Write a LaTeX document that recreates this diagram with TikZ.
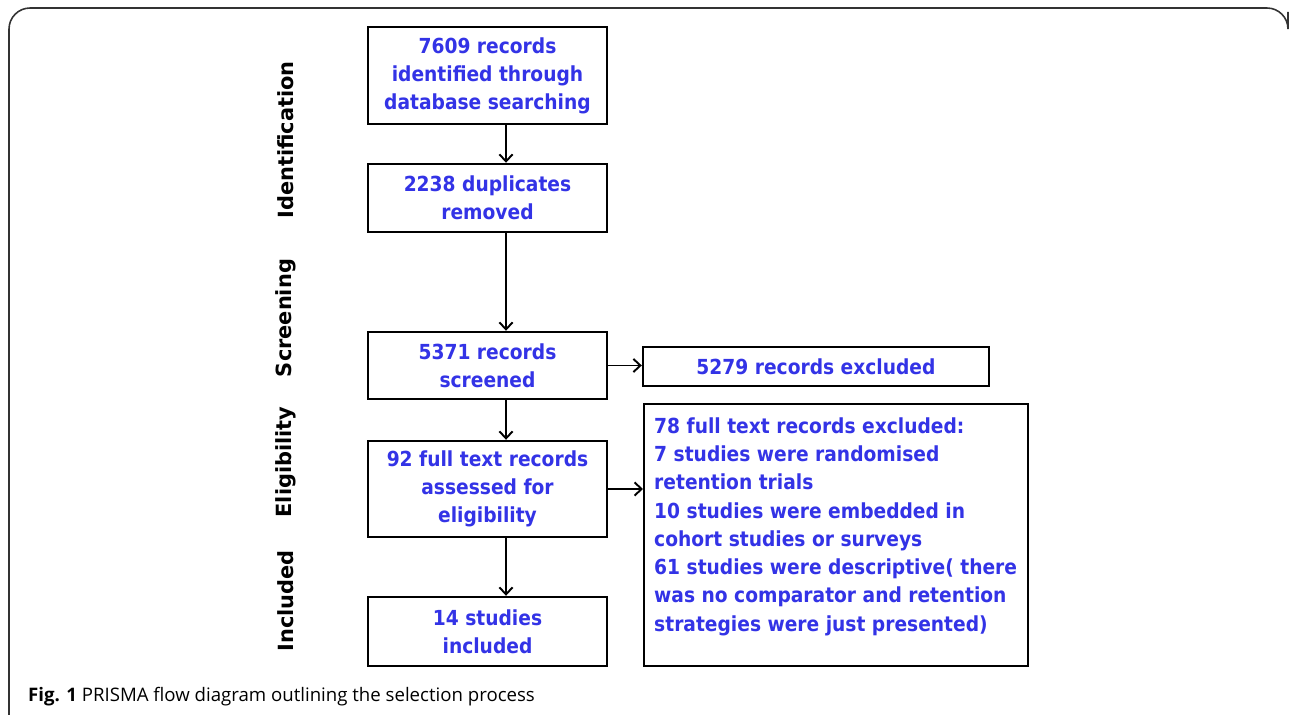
\documentclass[tikz,border=0pt]{standalone}
\usepackage{fontspec}
\setmainfont{Open Sans}
\newfontfamily\boxfont{DejaVu Sans Condensed Bold}
\newfontfamily\phasefont{DejaVu Sans}
\usetikzlibrary{positioning,calc,arrows.meta}
\definecolor{recblue}{RGB}{51,51,230}

\begin{document}
\begin{tikzpicture}[x=0.02cm,y=-0.02cm,
	recbox/.style={draw,line width=1.4pt,minimum width=4.78cm,align=center,
		text=recblue,font=\boxfont\fontsize{11.8}{16}\selectfont},
	phase/.style={rotate=90,font=\phasefont\bfseries\fontsize{11.9}{14}\selectfont},
	arr/.style={-{Straight Barb[length=4pt,width=7.5pt]},line width=1.1pt}]
	\useasboundingbox (0,0) rectangle (1290,715);
	\draw[black!80,line width=0.9pt,rounded corners=12] (9,716) -- (9,8) -- (1288,8) -- (1288,12);
	% phases
	\node[phase] (ident) at (286,140) {Identification};
	\node[phase] (screen) at (286,318) {Screening};
	\node[phase] (elgb) at (286,462) {Eligibility};
	\node[phase] (incl) at (286,601) {Included};
	% main column
	\node[recbox,minimum height=1.94cm] (id) at (487.5,75.5) {7609 records\\identified through\\database searching};
	\node[recbox,minimum height=1.36cm] (dup) at (487.5,198) {2238 duplicates\\removed};
	\node[recbox,minimum height=1.34cm] (scr) at (487.5,365.5) {5371 records\\screened};
	\node[recbox,minimum height=1.92cm] (elig) at (487.5,489) {92 full text records\\assessed for\\eligibility};
	\node[recbox,minimum height=1.38cm] (inc) at (487.5,631.5) {14 studies\\included};
	% exclusions
	\node[recbox,minimum width=6.92cm,minimum height=0.78cm] (exc) at (816,366.5) {5279 records excluded};
	\node[draw,line width=1.4pt,inner xsep=0.2cm,inner ysep=0pt,anchor=north west,text=recblue,
		font=\boxfont\fontsize{11.8}{16.1}\selectfont] (full) at (643,403)
		{\parbox[t][5.24cm][t]{7.28cm}{\raggedright\rule{0pt}{0.58cm}78 full text records excluded:\\
		7 studies were randomised\\retention trials\\10 studies were embedded in\\
		cohort studies or surveys\\61 studies were descriptive( there\\
		was no comparator and retention\\strategies were just presented)}};
	\draw[arr] ([xshift=0.37cm]id.south) -- ([xshift=0.37cm]dup.north);
	\draw[arr] ([xshift=0.37cm]dup.south) -- ([xshift=0.37cm]scr.north);
	\draw[arr] ([xshift=0.37cm]scr.south) -- ([xshift=0.37cm]elig.north);
	\draw[arr] ([xshift=0.37cm]elig.south) -- ([xshift=0.37cm]inc.north);
	\draw[arr] (scr.east) -- (scr.east -| exc.west);
	\draw[arr] (elig.east) -- (elig.east -| full.west);
	% caption
	\node[anchor=west,font=\fontsize{10.6}{12}\selectfont] (cap) at (22,697)
		{\textbf{Fig. 1} PRISMA flow diagram outlining the selection process};
\end{tikzpicture}
\end{document}
